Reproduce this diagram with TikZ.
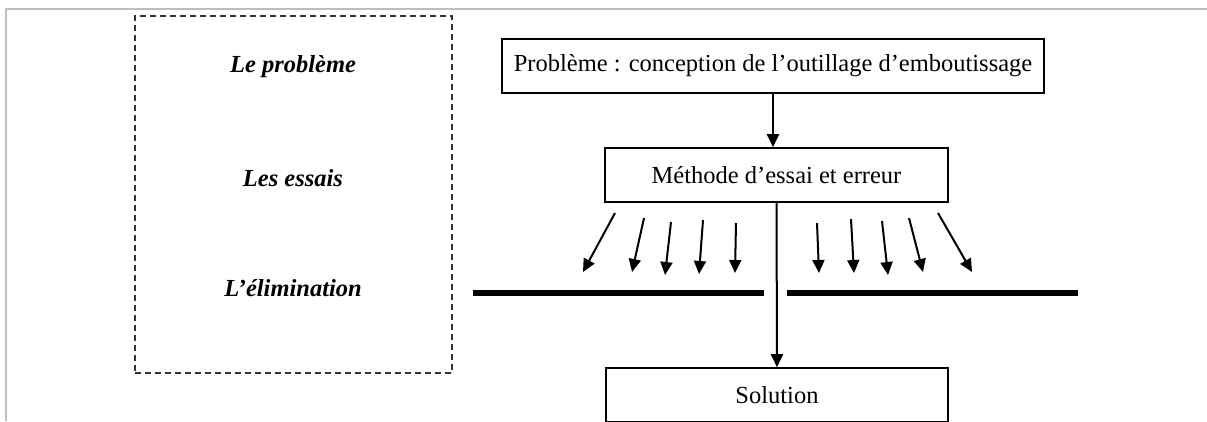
\documentclass[tikz,border=0pt]{standalone}
\usepackage{fontspec}
\setmainfont{Liberation Serif}
\usepackage{tikz}
\usetikzlibrary{arrows.meta}
\tikzset{
    box/.style={draw, line width=1.6pt, minimum height=54pt, inner sep=0pt,
        font=\fontsize{24.5}{28}\selectfont},
    stage/.style={font=\fontsize{24.5}{28}\selectfont\bfseries\itshape},
    link/.style={line width=2pt, -{Triangle[length=13pt,width=12pt]}},
    bar/.style={line width=6pt},
}

\begin{document}
\begin{tikzpicture}[x=1pt,y=-1pt]
		\useasboundingbox (0,0) rectangle (1207,421);
		% page frame
		\coordinate (fa) at (6,421);
		\coordinate (fb) at (6,9);
		\coordinate (fc) at (1207,9);
		\draw[gray!50, line width=2pt] (fa) -- (fb) -- (fc);

		% stages
		\node[draw, dash pattern=on 6pt off 4pt, line width=1.6pt, black!80, minimum width=317pt, minimum height=357pt] (steps) at (293.5,194.5) {};
		\node[stage] (s1) at (293,67) {Le problème};
		\node[stage] (s2) at (293,178) {Les essais};
		\node[stage] (s3) at (293,288) {L’élimination};

		% boxes
		\node[box, minimum width=542pt] (prob) at (773,66) {Problème : conception de l’outillage d’emboutissage};
		\node[box, minimum width=343pt] (meth) at (776.5,175) {Méthode d’essai et erreur};
		\node[box, minimum width=342pt] (sol) at (777,395) {Solution};
		\draw[link] (prob.south) -- (prob.south |- meth.north);
		\draw[link] (meth.south) -- (sol.north);

		% elimination
		\coordinate (b1a) at (473,293);
		\coordinate (b1b) at (764,293);
		\coordinate (b2a) at (787,293);
		\coordinate (b2b) at (1078,293);
		\draw[bar] (b1a) -- (b1b);
		\draw[bar] (b2a) -- (b2b);
		\foreach \i/\xa/\ya/\xb/\yb in {1/615/213/583/272, 2/644/218/632/272, 3/671/222/665/275,
				4/703/220/699/274, 5/736/223/735/273, 6/817/223/819/273, 7/851/219/854/273,
				8/882/221/888/275, 9/909/218/923/272, 10/938/213/972/272}{
			\coordinate (t\i) at (\xa,\ya);
			\coordinate (h\i) at (\xb,\yb);
			\draw[link] (t\i) -- (h\i);
		}
	\end{tikzpicture}
\end{document}
